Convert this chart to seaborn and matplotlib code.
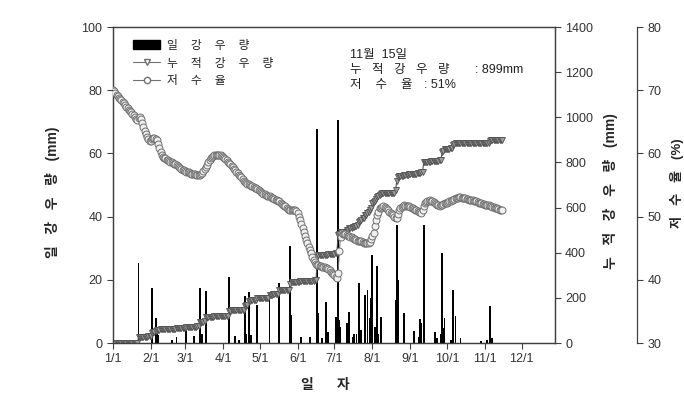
import numpy as np
import pandas as pd
import matplotlib
matplotlib.use("Agg")
import matplotlib.pyplot as plt
import seaborn as sns
from matplotlib.lines import Line2D
from matplotlib.patches import Patch

# ---------------- data ----------------
month_ticks = [0, 31, 59, 90, 120, 151, 181, 212, 243, 273, 304, 334]
month_labels = ["1/1", "2/1", "3/1", "4/1", "5/1", "6/1", "7/1", "8/1",
                "9/1", "10/1", "11/1", "12/1"]

# daily rainfall (day of year, mm)
rain_days = [21, 32, 35, 36, 37, 48, 52, 60, 66, 71, 73, 76, 95, 100, 103, 108, 109,
             111, 113, 118, 128, 136, 145, 146, 154, 161, 167, 168, 171, 174, 176,
             182, 184, 185, 186, 191, 193, 196, 197, 199, 201, 203, 206, 208, 210,
             211, 212, 214, 216, 217, 219, 231, 232, 233, 238, 246, 250, 251, 252,
             254, 263, 265, 268, 269, 270, 271, 276, 278, 280, 284, 301, 306, 308, 310]
rain_mm = [25.4, 17.3, 7.8, 3, 2.5, 1, 2, 4, 2.2, 17.3, 3, 16.5, 21, 2.2, 1, 14.9, 3,
           16.2, 2.5, 12, 15.7, 18.9, 30.7, 8.9, 2, 2, 67.6, 9.5, 1.6, 13.1, 3.6,
           8.3, 70.6, 7.3, 5, 6.3, 9.7, 2, 3, 3, 19.1, 4, 15.2, 16.8, 8,
           14.2, 27.8, 5, 24.5, 3, 8.3, 13.6, 37.3, 20, 9.6, 3.9, 2, 7.5, 6.2,
           37.3, 3.4, 1.5, 3, 28.6, 4.7, 7.8, 1, 16.8, 8.5, 1.5, 0.5, 1, 11.8, 1.5]

# cumulative rainfall (mm), daily from 1/1 to 11/15
cum_jan = [0] * 21 + [26, 27, 27, 27, 28, 28, 28, 28, 29, 29]
cum_feb = [29, 45, 47, 49, 54, 57, 59, 59, 60, 60, 60, 61, 61, 61, 62, 62, 62, 63, 63,
           63, 63, 65, 65, 66, 66, 66, 67, 67]
cum_mar = [67, 70, 70, 70, 71, 71, 71, 73, 73, 73, 74, 74, 91, 92, 95, 95, 96, 113, 115,
           116, 116, 117, 117, 117, 118, 118, 118, 119, 119, 119, 120]
cum_apr = [120, 120, 121, 121, 121, 143, 143, 144, 144, 144, 146, 146, 146, 147, 147,
           147, 148, 148, 163, 167, 168, 185, 186, 189, 190, 190, 190, 191, 199, 199]
cum_may = [199, 199, 200, 200, 200, 200, 201, 201, 214, 214, 214, 215, 215, 215, 215,
           216, 233, 233, 233, 233, 234, 234, 234, 234, 234, 263, 271, 271, 271, 272, 272]
cum_jun = [272, 272, 273, 274, 274, 274, 274, 274, 274, 275, 276, 276, 276, 276, 277,
           277, 380, 388, 388, 388, 389, 389, 389, 392, 392, 394, 394, 394, 394, 395]
cum_jul = [395, 398, 398, 478, 485, 490, 491, 492, 492, 493, 500, 502, 510, 511, 511,
           513, 516, 517, 520, 522, 537, 540, 545, 553, 555, 565, 568, 578, 582, 588, 598]
cum_aug = [620, 625, 630, 636, 648, 652, 655, 662, 663, 663, 663, 664, 664, 664, 664,
           665, 665, 665, 665, 680, 718, 737, 738, 739, 739, 740, 745, 746, 746, 746, 747]
cum_sep = [747, 747, 748, 750, 750, 750, 751, 752, 754, 756, 756, 802, 803, 803, 804,
           804, 804, 805, 805, 805, 807, 807, 808, 808, 809, 811, 845, 852, 859, 860]
cum_oct = [860, 861, 861, 862, 862, 878, 880, 885, 885, 885, 885, 886] + [886] * 19
cum_nov = [886, 886, 887, 887, 897, 898, 899] + [899] * 8

# reservoir storage rate (%), daily from 1/1 to 11/15
res_jan = [70.0, 69.8, 69.5, 69.3, 69.1, 68.8, 68.6, 68.4, 68.1, 67.9, 67.7, 67.4, 67.2,
           66.9, 66.7, 66.5, 66.2, 66.0, 65.8, 65.5, 65.3, 65.6, 65.8, 65.4, 64.8, 64.2,
           63.6, 63.1, 62.6, 62.2, 61.9]
res_feb = [62.0, 62.3, 62.5, 62.4, 62.2, 62.1, 61.5, 60.9, 60.3, 59.8, 59.5, 59.3, 59.2,
           59.0, 58.9, 58.8, 58.7, 58.6, 58.5, 58.4, 58.3, 58.1, 58.0, 57.9, 57.7, 57.6,
           57.4, 57.3]
res_mar = [57.2, 57.1, 57.0, 57.0, 56.9, 56.8, 56.8, 56.7, 56.7, 56.6, 56.6, 56.6, 56.6,
           56.7, 56.9, 57.2, 57.6, 57.9, 58.2, 58.6, 58.9, 59.2, 59.5, 59.6, 59.7, 59.8,
           59.8, 59.8, 59.8, 59.7, 59.6]
res_apr = [59.4, 59.3, 59.1, 59.0, 58.7, 58.5, 58.3, 58.0, 57.8, 57.5, 57.3, 57.1, 56.9,
           56.6, 56.4, 56.2, 56.0, 55.7, 55.5, 55.3, 55.2, 55.1, 55.0, 54.9, 54.8, 54.7,
           54.6, 54.5, 54.4, 54.2]
res_may = [54.1, 53.9, 53.8, 53.6, 53.5, 53.4, 53.3, 53.2, 53.2, 53.1, 53.0, 52.9, 52.8,
           52.7, 52.6, 52.5, 52.4, 52.2, 52.0, 51.9, 51.7, 51.6, 51.4, 51.2, 51.1, 51.0,
           51.0, 51.1, 51.1, 51.0, 50.9]
res_jun = [50.5, 50.0, 49.5, 48.9, 48.2, 47.6, 46.9, 46.3, 45.8, 45.2, 44.7, 44.2, 43.6,
           43.1, 42.8, 42.5, 42.3, 42.3, 42.2, 42.2, 42.1, 42.1, 42.0, 41.9, 41.9, 41.7,
           41.5, 41.3, 41.1, 40.9]
res_jul = [40.7, 40.5, 40.3, 41.0, 44.5, 46.8, 47.4, 47.3, 47.3, 47.2, 47.1, 47.0, 46.9,
           46.8, 46.7, 46.6, 46.5, 46.4, 46.3, 46.2, 46.2, 46.1, 46.1, 46.0, 45.9, 45.9,
           45.8, 45.8, 45.9, 46.0, 46.4]
res_aug = [46.9, 47.4, 48.5, 49.5, 50.2, 50.8, 51.3, 51.4, 51.5, 51.6, 51.5, 51.3, 51.2,
           51.0, 50.8, 50.6, 50.4, 50.2, 50.0, 49.8, 49.7, 50.4, 51.0, 51.3, 51.5, 51.7,
           51.8, 51.7, 51.7, 51.6, 51.6]
res_sep = [51.5, 51.4, 51.3, 51.2, 51.1, 51.0, 50.9, 50.8, 50.7, 50.6, 51.1, 51.6, 52.1,
           52.3, 52.4, 52.5, 52.6, 52.5, 52.4, 52.3, 52.2, 52.0, 51.9, 51.8, 51.7, 51.8,
           51.9, 52.0, 52.1, 52.2]
res_oct = [52.2, 52.3, 52.4, 52.5, 52.6, 52.7, 52.8, 52.9, 53.0, 53.0, 53.1, 53.1, 53.0,
           53.0, 52.9, 52.9, 52.8, 52.8, 52.7, 52.7, 52.6, 52.6, 52.5, 52.4, 52.4, 52.3,
           52.2, 52.1, 52.1, 52.0, 52.0]
res_nov = [51.9, 51.9, 51.8, 51.8, 51.7, 51.6, 51.5, 51.5, 51.4, 51.3, 51.3, 51.2, 51.1,
           51.1, 51.0]

cum_rain = (cum_jan + cum_feb + cum_mar + cum_apr + cum_may + cum_jun + cum_jul +
            cum_aug + cum_sep + cum_oct + cum_nov)
reservoir = (res_jan + res_feb + res_mar + res_apr + res_may + res_jun + res_jul +
             res_aug + res_sep + res_oct + res_nov)

legend_labels = ["일 강 우 량", "누 적 강 우 량", "저 수 율"]
note_date = "11월  15일"
note_cum = ("누 적 강 우 량", ": 899mm")
note_res = ("저 수 율", ": 51%")

# ---------------- style ----------------
sns.set_style("ticks")
plt.rcParams["font.family"] = ["Liberation Sans", "Noto Sans CJK KR"]
plt.rcParams["axes.edgecolor"] = "#404040"
plt.rcParams["xtick.color"] = "#404040"
plt.rcParams["ytick.color"] = "#404040"
plt.rcParams["text.color"] = "#222222"


def spaced(s, n):
    return (" " * n).join(s.split(" "))


fig = plt.figure(figsize=(6.84, 4.0), dpi=100)
ax = fig.add_axes([0.165, 0.1425, 0.646, 0.79])
ax2 = ax.twinx()
ax3 = ax.twinx()

# daily rainfall bars
ax.bar(rain_days, rain_mm, width=1.5, color="black", linewidth=0, zorder=3)

df_cum = pd.DataFrame({"day": np.arange(len(cum_rain)), "cum": cum_rain})
df_res = pd.DataFrame({"day": np.arange(len(reservoir)), "res": reservoir})

sns.lineplot(data=df_cum, x="day", y="cum", ax=ax2, color="#505050", linewidth=0.8,
             marker="v", markersize=5, markerfacecolor="#9c9c9c",
             markeredgecolor="#505050", markeredgewidth=0.6)
sns.lineplot(data=df_res, x="day", y="res", ax=ax3, color="#707070", linewidth=0.8,
             marker="o", markersize=5, markerfacecolor="#f0f0f0",
             markeredgecolor="#707070", markeredgewidth=0.7)

# axes limits / ticks
ax.set_xlim(0, 361)
ax.set_ylim(0, 100)
ax.set_yticks(range(0, 101, 20))
ax.set_xticks(month_ticks)
ax.set_xticklabels(month_labels)
ax2.set_ylim(0, 1400)
ax2.set_yticks(range(0, 1401, 200))
ax3.set_ylim(30, 80)
ax3.set_yticks(range(30, 81, 10))
ax3.spines["right"].set_position(("axes", 1.186))
for sp in ["top", "left", "bottom"]:
    ax3.spines[sp].set_visible(False)

for a in (ax, ax2, ax3):
    a.tick_params(labelsize=9, length=4, width=0.8, labelcolor="#333333")
    for sp in a.spines.values():
        sp.set_linewidth(0.9)

# axis labels
lab_font = dict(fontsize=10, fontweight="bold")
ax.set_xlabel(spaced("일 자", 6), **lab_font)
ax.xaxis.set_label_coords(0.48, -0.11)
ax.set_ylabel(spaced("일 강 우 량 (mm)", 3), **lab_font)
ax.yaxis.set_label_coords(-0.12, 0.478)
ax2.set_ylabel(spaced("누 적 강 우 량 (mm)", 3), rotation=90, **lab_font)
ax2.yaxis.set_label_coords(1.109, 0.48)
ax3.set_ylabel(spaced("저 수 율 (%)", 3), rotation=90, fontsize=9.5,
               fontweight="bold")
ax3.yaxis.set_label_coords(1.262, 0.506)

# legend
handles = [
    Patch(facecolor="black", edgecolor="black"),
    Line2D([], [], color="#707070", linewidth=0.8, marker="v", markersize=4.5,
           markerfacecolor="white", markeredgecolor="#707070"),
    Line2D([], [], color="#707070", linewidth=0.8, marker="o", markersize=4.5,
           markerfacecolor="white", markeredgecolor="#707070"),
]
ax.legend(handles, [spaced(l, 4) for l in legend_labels], loc="upper left",
          bbox_to_anchor=(0.035, 0.975), frameon=False, fontsize=8.5,
          handlelength=2.3, handleheight=0.9, labelspacing=0.5, borderaxespad=0,
          handletextpad=0.6)

# annotation
ax.text(0.536, 0.911, note_date, transform=ax.transAxes, fontsize=9, va="center")
ax.text(0.536, 0.864, spaced(note_cum[0], 3), transform=ax.transAxes, fontsize=9,
        va="center")
ax.text(0.82, 0.864, note_cum[1], transform=ax.transAxes, fontsize=9, va="center")
ax.text(0.536, 0.816, spaced(note_res[0], 4), transform=ax.transAxes, fontsize=9,
        va="center")
ax.text(0.705, 0.816, note_res[1], transform=ax.transAxes, fontsize=9, va="center")

fig.savefig("out.png", dpi=100)
